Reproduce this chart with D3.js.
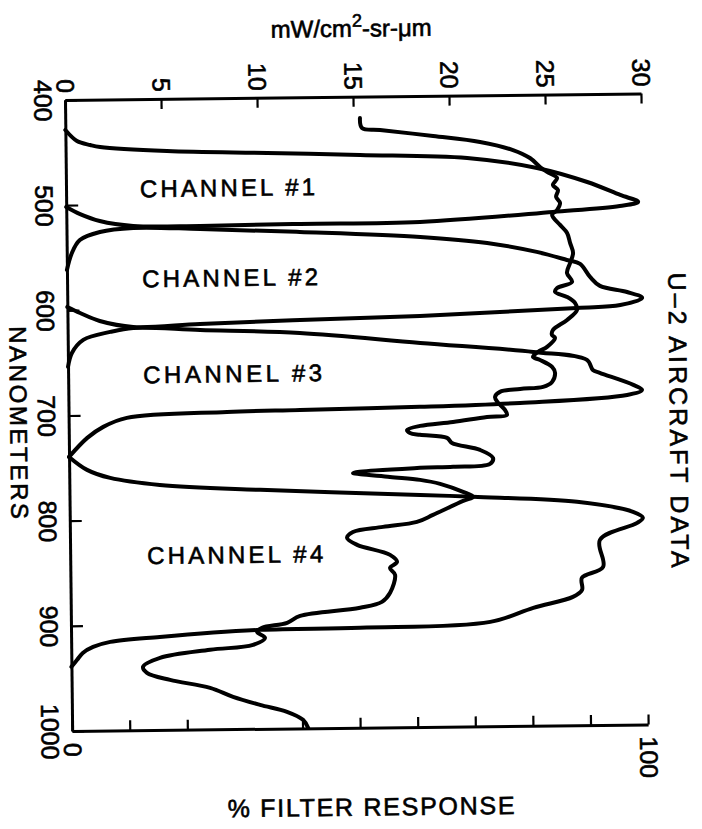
<!DOCTYPE html>
<html>
<head>
<meta charset="utf-8">
<script src="https://cdn.jsdelivr.net/npm/d3@7"></script>
<style>
  body { margin: 0; background: #fff; }
  svg { display: block; font-family: "Liberation Sans", Arial, Helvetica, sans-serif; }
  svg text { fill: #000; stroke: #000; stroke-width: 0.6px; }
  .axis path { stroke: #000; stroke-width: 3; }
  .axis line { stroke: #000; stroke-width: 2.2; }
  .curve { fill: none; stroke: #000; stroke-width: 4; stroke-linejoin: round; stroke-linecap: round; }
</style>
</head>
<body>
<div id="chart"></div>
<script>
// Tick values
const radTicks = [0, 5, 10, 15, 20, 25, 30];
const wlTicks = [400, 500, 600, 700, 800, 900, 1000];
const pctTicks = [0, 10, 20, 40, 50, 60, 70, 80, 90, 100];

// Filter responses: [wavelength nm, % response]
const channel1 = [[428.5,0],[439.1,2.0],[443.1,4.3],[445.1,6.0],[449.6,17.6],[452.6,35.0],[455.4,51.1],[459.4,69.7],[469.7,81.8],[483.6,90.5],[496.3,96.2],[503.1,99.3],[506.7,96.1],[511.7,84.5],[519.8,61.4],[520.4,40.6],[521.2,23.2],[520.5,11.6],[515.4,5.8],[508.6,2.4],[501.7,0]];
const channel2 = [[561.6,0],[545.5,0.9],[533.3,2.3],[525.9,5.8],[522.4,11.6],[524.1,23.2],[528.0,40.5],[534.0,61.4],[540.5,73.0],[549.5,81.6],[557.5,86.8],[561.4,89.1],[573.9,90.8],[582.5,92.5],[588.6,97.2],[594.4,99.8],[600.9,96.0],[603.2,88.5],[609.1,61.2],[611.7,40.4],[614.4,23.0],[616.5,11.4],[610.5,5.6],[602.7,2.2],[596.8,0]];
const channel3 = [[653.8,0],[640.6,0.7],[628.3,2.7],[621.0,7.4],[617.5,11.4],[620.1,23.0],[624.0,40.3],[634.8,61.2],[644.6,80.8],[652.8,90.1],[662.4,91.1],[665.2,92.3],[677.0,98.1],[681.8,99.6],[686.5,97.0],[692.9,78.4],[695.6,61.0],[697.2,40.2],[698.3,27.5],[702.9,10.1],[711.2,6.0],[721.5,3.2],[739.4,0]];
const channel4 = [[739.4,0],[751.9,3.1],[759.8,7.1],[767.0,15.7],[772.8,33.1],[779.3,60.9],[781.7,70.1],[787.6,88.1],[797.7,97.8],[803.5,99.5],[808.3,98.5],[824.0,92.0],[849.7,92.5],[859.9,88.8],[871.3,88.8],[877.9,87.2],[887.9,80.3],[900.8,72.8],[905.0,50.2],[905.9,32.8],[911.5,15.4],[915.7,6.8],[920.3,3.8],[925.9,2.0],[932.4,1.0],[939.0,0]];

// U-2 radiance: [wavelength nm, mW/cm2-sr-um]
const radiance = [[420.3,15.35],[429.8,15.45],[431.9,16.39],[438.2,19.15],[444.4,21.59],[452.4,23.3],[460.2,24.18],[468.8,24.7],[473.6,25.06],[479.5,25.58],[486.0,25.36],[490.9,25.62],[497.4,25.52],[503.2,25.72],[509.9,25.56],[514.5,25.3],[524.1,25.71],[531.8,26.07],[541.3,26.22],[550.9,26.37],[560.4,26.21],[569.9,26.04],[578.4,26.3],[584.0,25.52],[587.7,25.41],[592.7,26.03],[598.5,26.44],[605.1,26.54],[614.5,26.02],[623.9,25.28],[628.6,25.22],[631.5,25.38],[639.9,24.96],[644.6,24.49],[649.3,24.22],[652.3,24.59],[659.0,25.21],[664.7,25.36],[673.3,25.2],[677.9,24.73],[679.6,23.53],[682.2,22.48],[687.0,22.22],[692.7,22.38],[699.4,22.73],[704.2,22.83],[705.9,21.79],[710.3,20.02],[713.7,18.3],[717.4,17.62],[720.3,17.77],[722.2,18.29],[725.4,19.7],[730.2,19.95],[737.2,21.41],[744.9,22.08],[750.6,21.92],[753.0,20.0],[753.6,18.27],[757.7,14.78],[761.9,16.7],[765.0,18.27],[769.0,19.31],[776.9,20.5],[781.7,21.02],[785.5,20.5],[798.5,18.92],[804.9,18.08],[809.3,16.31],[813.8,14.74],[819.4,14.43],[826.1,14.95],[836.0,16.66],[842.8,17.02],[848.4,16.65],[855.0,16.91],[872.1,16.64],[880.6,16.21],[886.0,15.07],[893.1,11.94],[899.5,11.26],[904.0,9.95],[907.8,9.69],[913.6,10.1],[920.1,9.47],[924.3,7.23],[931.5,4.62],[939.8,3.73],[945.5,3.93],[952.5,5.13],[960.5,7.21],[969.3,8.4],[977.2,9.8],[984.1,11.2],[991.9,12.03],[999.5,12.29]];

const channelNames = ['CHANNEL #1', 'CHANNEL #2', 'CHANNEL #3', 'CHANNEL #4'];

// Layout
const margin = { top: 100, left: 65 };
const width = 576;
const height = 631;
const labelSpots = [[74, 98, 175], [75, 188, 176], [75, 284, 179], [77, 465, 176]];

const svg = d3.select('#chart')
    .append('svg')
    .attr('width', 702)
    .attr('height', 829);

svg.append('rect').attr('width', 702).attr('height', 829).attr('fill', '#fff').attr('stroke', 'none');

// the original scan is tilted slightly
const g = svg.append('g')
    .attr('transform', `rotate(-0.65, ${margin.left}, ${margin.top}) translate(${margin.left},${margin.top})`);

// Scales
const y = d3.scaleLinear().domain([400, 1000]).range([0, height]);
const xPct = d3.scaleLinear().domain([0, 100]).range([0, width]);
const xRad = d3.scaleLinear().domain([0, 30]).range([0, width]);

// Axes
g.append('g')
    .attr('class', 'axis')
    .call(d3.axisTop(xRad).tickValues(radTicks).tickSize(-10).tickSizeOuter(0))
    .attr('font-size', 25).attr('font-family', null)
    .call(a => a.selectAll('text')
        .attr('y', 0).attr('dy', '0.35em')
        .attr('transform', 'translate(0,-7) rotate(90)')
        .attr('text-anchor', 'end'));

g.append('g')
    .attr('class', 'axis')
    .call(d3.axisLeft(y).tickValues(wlTicks).tickSize(-12).tickSizeOuter(0).tickFormat(d3.format('d')))
    .attr('font-size', 25).attr('font-family', null)
    .call(a => a.selectAll('text')
        .attr('x', 0).attr('dy', '0.35em')
        .attr('transform', 'translate(-22,0) rotate(90)')
        .attr('text-anchor', 'middle'));

g.append('g')
    .attr('class', 'axis')
    .attr('transform', `translate(0,${height})`)
    .call(d3.axisBottom(xPct).tickValues(pctTicks).tickSize(-10).tickSizeOuter(0)
        .tickFormat(d => (d === 0 || d === 100) ? d : ''))
    .attr('font-size', 25).attr('font-family', null)
    .call(a => a.selectAll('text')
        .attr('y', 0).attr('dy', '0.35em')
        .attr('transform', 'translate(0,12) rotate(90)')
        .attr('text-anchor', 'start'));

// Curves
const filterLine = d3.line()
    .x(d => xPct(d[1]))
    .y(d => y(d[0]))
    .curve(d3.curveCatmullRom.alpha(0.5));

const radLine = d3.line()
    .x(d => xRad(d[1]))
    .y(d => y(d[0]))
    .curve(d3.curveCatmullRom.alpha(0.5));

[channel1, channel2, channel3, channel4].forEach(ch => {
    g.append('path').attr('class', 'curve').attr('d', filterLine(ch));
});

g.append('path').attr('class', 'curve').attr('d', radLine(radiance));

// Channel labels
channelNames.forEach((name, i) => {
    const [lx, ly, len] = labelSpots[i];
    g.append('text')
        .attr('x', lx).attr('y', ly)
        .attr('font-size', 24)
        .attr('textLength', len)
        .attr('lengthAdjust', 'spacing')
        .text(name);
});

// Titles
const title = g.append('text')
    .attr('x', 287).attr('y', -60)
    .attr('text-anchor', 'middle')
    .attr('font-size', 24);
title.append('tspan').text('mW/cm');
title.append('tspan').attr('font-size', 18).attr('dy', -10).text('2');
title.append('tspan').attr('dy', 10).text('-sr-\u03bcm');

g.append('text')
    .attr('transform', 'translate(-50,322) rotate(90)')
    .attr('text-anchor', 'middle').attr('dy', '0.35em')
    .attr('font-size', 24)
    .attr('textLength', 193).attr('lengthAdjust', 'spacing')
    .text('NANOMETERS');

g.append('text')
    .attr('transform', 'translate(610,327) rotate(90)')
    .attr('text-anchor', 'middle').attr('dy', '0.35em')
    .attr('font-size', 25)
    .attr('textLength', 295).attr('lengthAdjust', 'spacing')
    .text('U\u20132 AIRCRAFT DATA');

g.append('text')
    .attr('x', 298).attr('y', 719)
    .attr('text-anchor', 'middle')
    .attr('font-size', 25)
    .attr('textLength', 287).attr('lengthAdjust', 'spacing')
    .text('% FILTER RESPONSE');
</script>
</body>
</html>
